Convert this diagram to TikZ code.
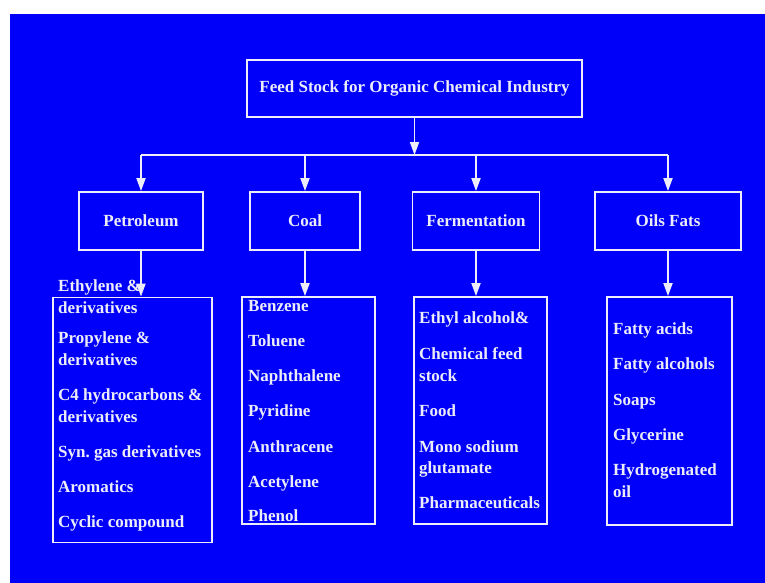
\documentclass[tikz,border=0pt]{standalone}
\usepackage{fontspec}
\setmainfont{Liberation Serif}
\usetikzlibrary{arrows.meta,positioning}
\definecolor{slideblue}{RGB}{0,0,250}
\definecolor{chalk}{RGB}{236,236,250}
\frenchspacing

\begin{document}
\begin{tikzpicture}[x=1pt,y=-1pt,
    box/.style={draw=chalk,line width=1.8pt,fill=slideblue,text=chalk,inner sep=0pt,
        font=\fontsize{17}{20}\selectfont\bfseries},
    conn/.style={draw=chalk,line width=1.8pt,-{Triangle[length=13pt,width=9pt]}},
    item/.style={text=chalk,anchor=base west,inner sep=0pt,
        font=\fontsize{17}{20}\selectfont\bfseries}]
\useasboundingbox (0,0) rectangle (765,583);
\fill[slideblue] (10,14) rectangle (765,583);

% top and source boxes
\node[box,minimum width=335pt,minimum height=57pt] (feed) at (414.5,88.5) {Feed Stock for Organic Chemical Industry};
\node[box,minimum width=124pt,minimum height=58pt] (petrol) at (141,221) {Petroleum};
\node[box,minimum width=110pt,minimum height=58pt] (coal) at (305,221) {Coal};
\node[box,minimum width=127pt,minimum height=58pt] (ferment) at (476,221) {Fermentation};
\node[box,minimum width=146pt,minimum height=58pt] (oils) at (668,221) {Oils Fats};

% product boxes
\node[box,minimum width=159pt,minimum height=245pt] (plist) at (132.5,420) {};
\node[box,minimum width=133pt,minimum height=227pt] (clist) at (308.5,410.5) {};
\node[box,minimum width=133pt,minimum height=227pt] (flist) at (480.5,410.5) {};
\node[box,minimum width=125pt,minimum height=228pt] (olist) at (669.5,411) {};

% connectors
\coordinate (bus) at (414.5,155);
\draw[conn] (feed.south) -- (bus);
\draw[draw=chalk,line width=1.8pt] (petrol.north |- bus) -- (oils.north |- bus);
\foreach \src/\dst in {petrol/plist,coal/clist,ferment/flist,oils/olist}{
    \draw[conn] (\src.north |- bus) -- (\src.north);
    \draw[conn] (\src.south) -- (\src.south |- \dst.north);
}

% product lists
\foreach \txt/\y [count=\i] in {Ethylene \&/291,derivatives/313,Propylene \&/343,derivatives/365,
    C4 hydrocarbons \&/400,derivatives/422,Syn. gas derivatives/457,Aromatics/492,Cyclic compound/527}
    \node[item] (p\i) at (58,\y) {\txt};
\foreach \txt/\y [count=\i] in {Benzene/311,Toluene/346,Naphthalene/381,Pyridine/416,
    Anthracene/452,Acetylene/487,Phenol/521}
    \node[item] (c\i) at (248,\y) {\txt};
\foreach \txt/\y [count=\i] in {Ethyl alcohol\&/323,Chemical feed/359,stock/381,Food/416,
    Mono sodium/452,glutamate/473,Pharmaceuticals/508}
    \node[item] (f\i) at (419,\y) {\txt};
\foreach \txt/\y [count=\i] in {Fatty acids/334,Fatty alcohols/369,Soaps/405,Glycerine/440,
    Hydrogenated/475,oil/497}
    \node[item] (o\i) at (613,\y) {\txt};
\end{tikzpicture}
\end{document}
